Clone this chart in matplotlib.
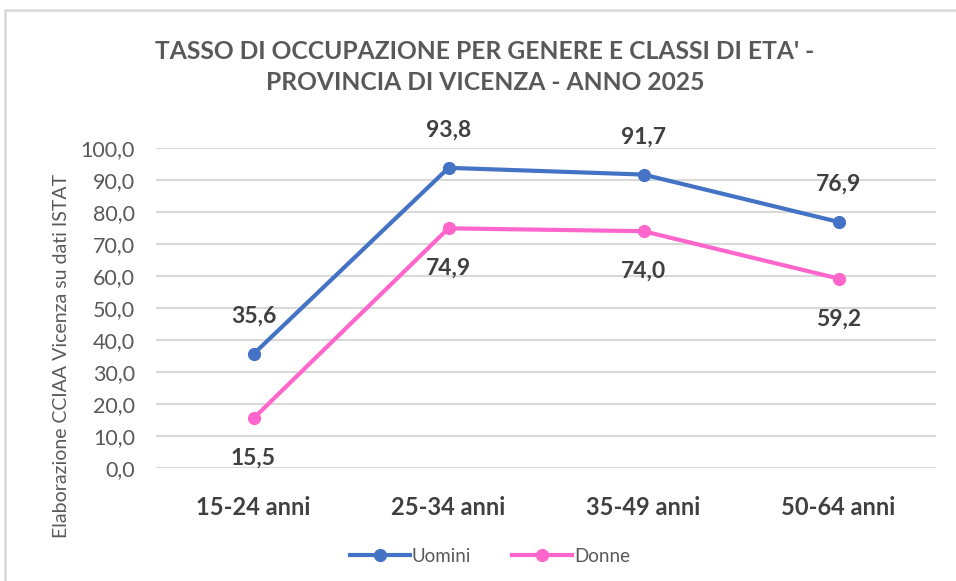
import matplotlib
matplotlib.use('Agg')
from matplotlib import pyplot as plt
from matplotlib.patches import Rectangle

plt.rcParams['font.family'] = ['Lato', 'DejaVu Sans']

# dati
classi = ['15-24 anni', '25-34 anni', '35-49 anni', '50-64 anni']
uomini = [35.6, 93.8, 91.7, 76.9]
donne = [15.5, 74.9, 74.0, 59.2]
y_ticks = [0, 10, 20, 30, 40, 50, 60, 70, 80, 90, 100]

blu = '#4472C4'
rosa = '#FF66CC'
grigio = '#595959'
scuro = '#404040'

fig = plt.figure(figsize=(9.56, 5.81), dpi=100)
fig.patches.append(Rectangle((5/956, -0.05), 1.1, 1 - 10/581 + 0.05, transform=fig.transFigure,
                             fill=False, edgecolor='#D9D9D9', linewidth=1.8))

ax = fig.add_axes([156/956, 1 - 468/581, (936 - 156)/956, (468 - 148)/581])
x = list(range(len(classi)))
ax.plot(x, uomini, color=blu, lw=3, marker='o', ms=8.5, label='Uomini', zorder=3)
ax.plot(x, donne, color=rosa, lw=3, marker='o', ms=8.5, label='Donne', zorder=3)

for xi, v in zip(x, uomini):
    ax.annotate(f'{v:.1f}'.replace('.', ','), (xi, v), xytext=(0, 27), textcoords='offset points',
                ha='center', va='center', fontsize=16.5, fontweight='bold', color=scuro)
for xi, v in zip(x, donne):
    ax.annotate(f'{v:.1f}'.replace('.', ','), (xi, v), xytext=(0, -29), textcoords='offset points',
                ha='center', va='center', fontsize=16.5, fontweight='bold', color=scuro)

ax.set_xlim(-0.5, 3.5)
ax.set_ylim(0, 100)
ax.set_yticks(y_ticks)
ax.set_yticklabels([f'{t:.1f}'.replace('.', ',') for t in y_ticks], fontsize=15.5, color=grigio)
ax.set_xticks(x)
ax.set_xticklabels(classi, fontsize=17, fontweight='bold', color=scuro)
ax.tick_params(axis='both', length=0)
ax.tick_params(axis='y', pad=15)
ax.tick_params(axis='x', pad=20)
ax.grid(axis='y', color='#D9D9D9', lw=1.5, zorder=0)
ax.set_axisbelow(True)
for s in ax.spines.values():
    s.set_visible(False)

fig.text(62/956, 1 - 356/581, 'Elaborazione CCIAA Vicenza su dati ISTAT', rotation=90,
         ha='center', va='center', fontsize=14, color=grigio)

fig.text(485/956, 1 - 67/581, "TASSO DI OCCUPAZIONE PER GENERE E CLASSI DI ETA' -\nPROVINCIA DI VICENZA - ANNO 2025",
         ha='center', va='center', multialignment='center', linespacing=1.45,
         fontsize=17.7, fontweight='bold', color=grigio)

fig.legend(loc='center', bbox_to_anchor=(490/956, 1 - 556/581), ncol=2, frameon=False,
           fontsize=13.5, labelcolor=grigio, handlelength=3.2, handletextpad=0.1, columnspacing=2.2)

plt.savefig('out.png', dpi=100)
